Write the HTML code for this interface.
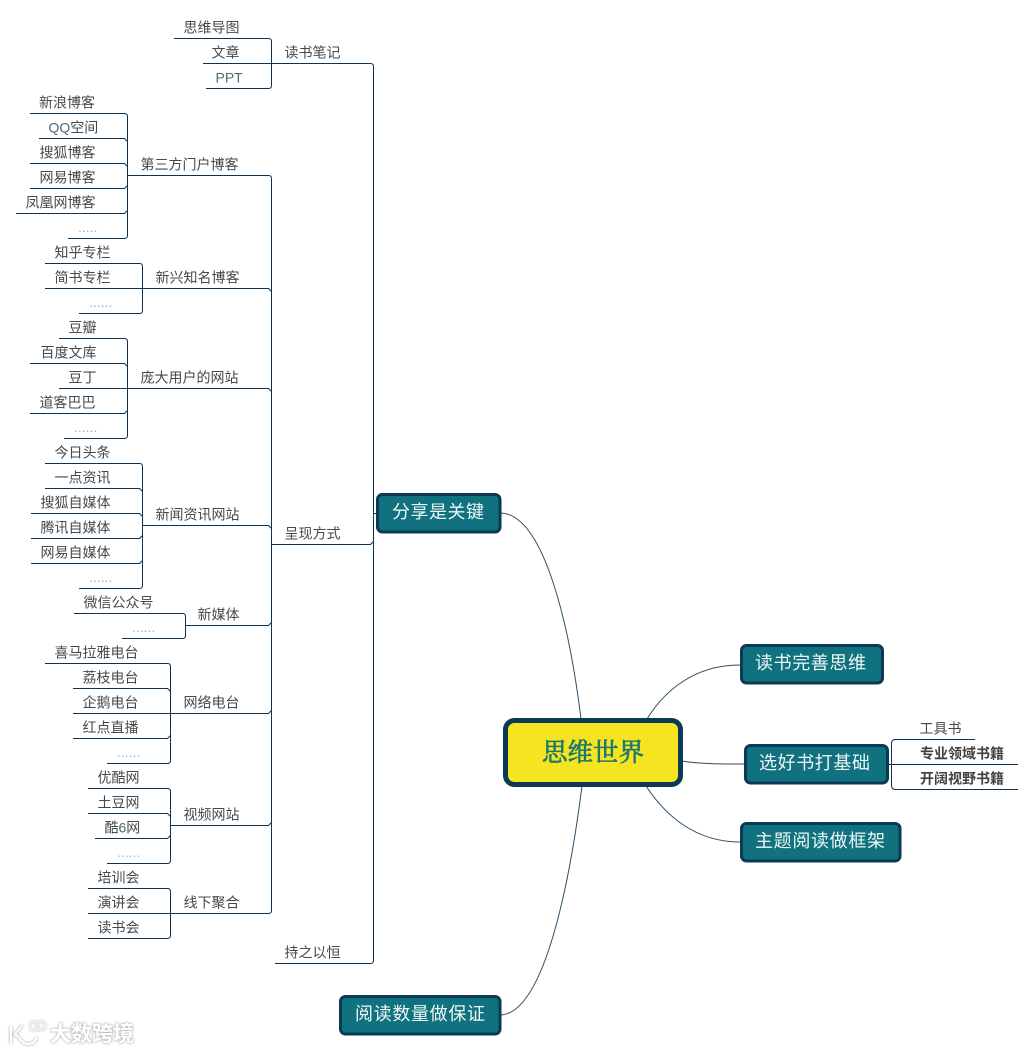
<!DOCTYPE html>
<html lang="zh">
<head>
<meta charset="utf-8">
<style>
html,body{margin:0;padding:0;background:#fff;width:1034px;height:1052px;overflow:hidden}
svg{display:block}
text{font-family:"Liberation Sans","WenQuanYi Zen Hei","Noto Sans CJK SC",sans-serif}
.t{font-size:14px;fill:#484848;transform:translate(-.5px,.7px)}
.p{font-size:14px;fill:#4d6e6e;transform:translate(-.5px,.7px)}
.d{font-size:14px;fill:#a9b4b4}
.b{font-size:14px;fill:#404040;font-weight:bold;transform:translate(0,.7px)}
.n{font-size:18px;fill:#eef7f7}
.l{fill:none;stroke:#0e3350;stroke-width:1}
.c{fill:none;stroke:#2f4f66;stroke-width:1}
.box{fill:#11727f;stroke:#0a3a55;stroke-width:3}
.wm{font-size:21px;font-weight:bold;fill:#fff}
</style>
</head>
<body>
<svg width="1034" height="1052" viewBox="0 0 1034 1052" xmlns="http://www.w3.org/2000/svg">
<defs>
<filter id="s" x="-20%" y="-40%" width="140%" height="180%"><feGaussianBlur stdDeviation="1.1"/></filter>
</defs>
<rect width="1034" height="1052" fill="#fff"/>

<!-- curves -->
<path class="c" d="M501,513 C545,515 570,630 581,719"/>
<path class="c" d="M501,1015 C545,1012 570,880 582,786"/>
<path class="c" d="M647,719 C665,690 695,665 740,665"/>
<path class="c" d="M682,761 C700,764 720,764 744,764"/>
<path class="c" d="M646,786 C665,815 695,842 740,842"/>

<!-- main bracket -->
<path class="l" d="M271,63.5 H370.5 Q373.5,63.5 373.5,66.5 V960.5 Q373.5,963.5 370.5,963.5 H275"/>
<path class="l" d="M271,544.5 H370.5 L373.5,541.5"/>
<path class="l" d="M373.5,513.5 H378"/>
<!-- read-notes -->
<path class="l" d="M174,38.5 H268.5 Q271.5,38.5 271.5,41.5 V85.5 Q271.5,88.5 268.5,88.5 H206"/>
<path class="l" d="M203,63.5 H272"/>
<!-- level 2 bracket -->
<path class="l" d="M128,175.5 H268.5 Q271.5,175.5 271.5,178.5 V910.5 Q271.5,913.5 268.5,913.5 H171"/>
<path class="l" d="M143,288.5 H268.5 L271.5,291.5"/>
<path class="l" d="M128,388.5 H268.5 L271.5,391.5"/>
<path class="l" d="M143,525.5 H268.5 L271.5,528.5"/>
<path class="l" d="M186,625.5 H268.5 L271.5,622.5"/>
<path class="l" d="M171,713.5 H268.5 L271.5,710.5"/>
<path class="l" d="M171,825.5 H268.5 L271.5,822.5"/>

<!-- portals -->
<path class="l" d="M30,113.5 H124.5 Q127.5,113.5 127.5,116.5 V235.5 Q127.5,238.5 124.5,238.5 H68"/>
<path class="l" d="M39,138.5 H124.5 L127.5,141.5"/>
<path class="l" d="M30,163.5 H124.5 L127.5,166.5"/>
<path class="l" d="M30,188.5 H124.5 L127.5,185.5"/>
<path class="l" d="M16,213.5 H124.5 L127.5,210.5"/>
<!-- emerging -->
<path class="l" d="M45,263.5 H139.5 Q142.5,263.5 142.5,266.5 V310.5 Q142.5,313.5 139.5,313.5 H79"/>
<path class="l" d="M45,288.5 H143"/>
<!-- big user -->
<path class="l" d="M59,338.5 H124.5 Q127.5,338.5 127.5,341.5 V435.5 Q127.5,438.5 124.5,438.5 H64"/>
<path class="l" d="M30,363.5 H124.5 L127.5,366.5"/>
<path class="l" d="M59,388.5 H128"/>
<path class="l" d="M30,413.5 H124.5 L127.5,410.5"/>
<!-- news -->
<path class="l" d="M45,463.5 H139.5 Q142.5,463.5 142.5,466.5 V585.5 Q142.5,588.5 139.5,588.5 H79"/>
<path class="l" d="M45,488.5 H139.5 L142.5,491.5"/>
<path class="l" d="M31,513.5 H139.5 L142.5,516.5"/>
<path class="l" d="M31,538.5 H139.5 L142.5,535.5"/>
<path class="l" d="M31,563.5 H139.5 L142.5,560.5"/>
<!-- new media -->
<path class="l" d="M74,613.5 H182.5 Q185.5,613.5 185.5,616.5 V635.5 Q185.5,638.5 182.5,638.5 H122"/>
<!-- radio -->
<path class="l" d="M45,663.5 H167.5 Q170.5,663.5 170.5,666.5 V760.5 Q170.5,763.5 167.5,763.5 H107"/>
<path class="l" d="M73,688.5 H167.5 L170.5,691.5"/>
<path class="l" d="M73,713.5 H171"/>
<path class="l" d="M73,738.5 H167.5 L170.5,735.5"/>
<!-- video -->
<path class="l" d="M88,788.5 H167.5 Q170.5,788.5 170.5,791.5 V860.5 Q170.5,863.5 167.5,863.5 H107"/>
<path class="l" d="M88,813.5 H167.5 L170.5,816.5"/>
<path class="l" d="M95,838.5 H167.5 L170.5,835.5"/>
<!-- offline -->
<path class="l" d="M88,888.5 H167.5 Q170.5,888.5 170.5,891.5 V935.5 Q170.5,938.5 167.5,938.5 H88"/>
<path class="l" d="M88,913.5 H171"/>
<!-- books -->
<path class="l" d="M975,739.5 H895.5 Q891.5,739.5 891.5,743.5 V785.5 Q891.5,789.5 895.5,789.5 H1018"/>
<path class="l" d="M889,764.5 H1018"/>

<!-- nodes -->
<rect x="505.5" y="720.5" width="175" height="64" rx="9" fill="#f5e41f" stroke="#0a3a55" stroke-width="5"/>
<text x="542" y="761" font-size="25.5" fill="#1c7a6c" stroke="#1c7a6c" stroke-width=".7" style="font-family:'Liberation Serif','Noto Serif CJK SC',serif">思维世界</text>

<rect class="box" x="377.5" y="494.5" width="122.5" height="37.5" rx="5"/>
<text class="n" x="392" y="518" textLength="92">分享是关键</text>
<rect class="box" x="340.5" y="996.5" width="159.5" height="37.5" rx="5"/>
<text class="n" x="355" y="1020" textLength="130">阅读数量做保证</text>
<rect class="box" x="741.5" y="645.5" width="141" height="37.5" rx="5"/>
<text class="n" x="755" y="669" textLength="111">读书完善思维</text>
<rect class="box" x="745.5" y="745.5" width="142" height="37.5" rx="5"/>
<text class="n" x="759" y="769" textLength="111">选好书打基础</text>
<rect class="box" x="741.5" y="823.5" width="158.5" height="37.5" rx="5"/>
<text class="n" x="755" y="847" textLength="130">主题阅读做框架</text>

<!-- right labels -->
<text class="t" x="920" y="733">工具书</text>
<text class="b" x="920" y="758">专业领域书籍</text>
<text class="b" x="920" y="783">开阔视野书籍</text>

<!-- labels -->
<text class="t" x="184" y="32">思维导图</text>
<text class="t" x="212" y="57">文章</text>
<text class="p" x="216" y="82">PPT</text>
<text class="t" x="285" y="57">读书笔记</text>

<text class="t" x="39.5" y="107">新浪博客</text>
<text class="p" x="49" y="132">QQ<tspan fill="#484848">空间</tspan></text>
<text class="t" x="40" y="157">搜狐博客</text>
<text class="t" x="40" y="182">网易博客</text>
<text class="t" x="26" y="207">凤凰网博客</text>
<text class="d" x="78" y="232">.....</text>
<text class="t" x="141" y="169">第三方门户博客</text>

<text class="t" x="55" y="257">知乎专栏</text>
<text class="t" x="55" y="282">简书专栏</text>
<text class="d" x="89" y="307">......</text>
<text class="t" x="156" y="282">新兴知名博客</text>

<text class="t" x="69" y="332">豆瓣</text>
<text class="t" x="41" y="357">百度文库</text>
<text class="t" x="69" y="382">豆丁</text>
<text class="t" x="40" y="407">道客巴巴</text>
<text class="d" x="74" y="432">......</text>
<text class="t" x="141" y="382">庞大用户的网站</text>

<text class="t" x="55" y="457">今日头条</text>
<text class="t" x="55" y="482">一点资讯</text>
<text class="t" x="41" y="507">搜狐自媒体</text>
<text class="t" x="41" y="532">腾讯自媒体</text>
<text class="t" x="41" y="557">网易自媒体</text>
<text class="d" x="89" y="582">......</text>
<text class="t" x="156" y="519">新闻资讯网站</text>
<text class="t" x="285" y="538">呈现方式</text>

<text class="t" x="84" y="607">微信公众号</text>
<text class="d" x="132" y="632">......</text>
<text class="t" x="198" y="619">新媒体</text>

<text class="t" x="55" y="657">喜马拉雅电台</text>
<text class="t" x="83" y="682">荔枝电台</text>
<text class="t" x="83" y="707">企鹅电台</text>
<text class="t" x="83" y="732">红点直播</text>
<text class="d" x="117" y="757">......</text>
<text class="t" x="184" y="707">网络电台</text>

<text class="t" x="98" y="782">优酷网</text>
<text class="t" x="98" y="807">土豆网</text>
<text class="t" x="105" y="832">酷<tspan fill="#4d6e6e">6</tspan>网</text>
<text class="d" x="117" y="857">......</text>
<text class="t" x="184" y="819">视频网站</text>

<text class="t" x="98" y="882">培训会</text>
<text class="t" x="98" y="907">演讲会</text>
<text class="t" x="98" y="932">读书会</text>
<text class="t" x="184" y="907">线下聚合</text>
<text class="t" x="285" y="957">持之以恒</text>

<!-- watermark -->
<g filter="url(#s)" fill="none" stroke="#c4c4c4" stroke-width="3.4">
<path d="M11,1026 V1044"/>
<path d="M23,1025 L15,1034 L24,1043 C31,1046 35,1042 37,1037"/>
<circle cx="34" cy="1026" r="4.5" stroke-width="2"/><circle cx="41" cy="1026" r="4.5" stroke-width="2"/>
</g>
<g fill="none" stroke="#fff" stroke-width="2">
<path d="M11,1026 V1044"/>
<path d="M23,1025 L15,1034 L24,1043 C31,1046 35,1042 37,1037"/>
</g>
<g fill="none" stroke="#fff" stroke-width="1">
<circle cx="34" cy="1026" r="4.5"/><circle cx="41" cy="1026" r="4.5"/>
</g>
<text class="wm" x="50" y="1041" textLength="84" filter="url(#s)" style="fill:#bdbdbd;stroke:#bdbdbd;stroke-width:1.2">大数跨境</text>
<text class="wm" x="50" y="1041" textLength="84">大数跨境</text>
</svg>
</body>
</html>
